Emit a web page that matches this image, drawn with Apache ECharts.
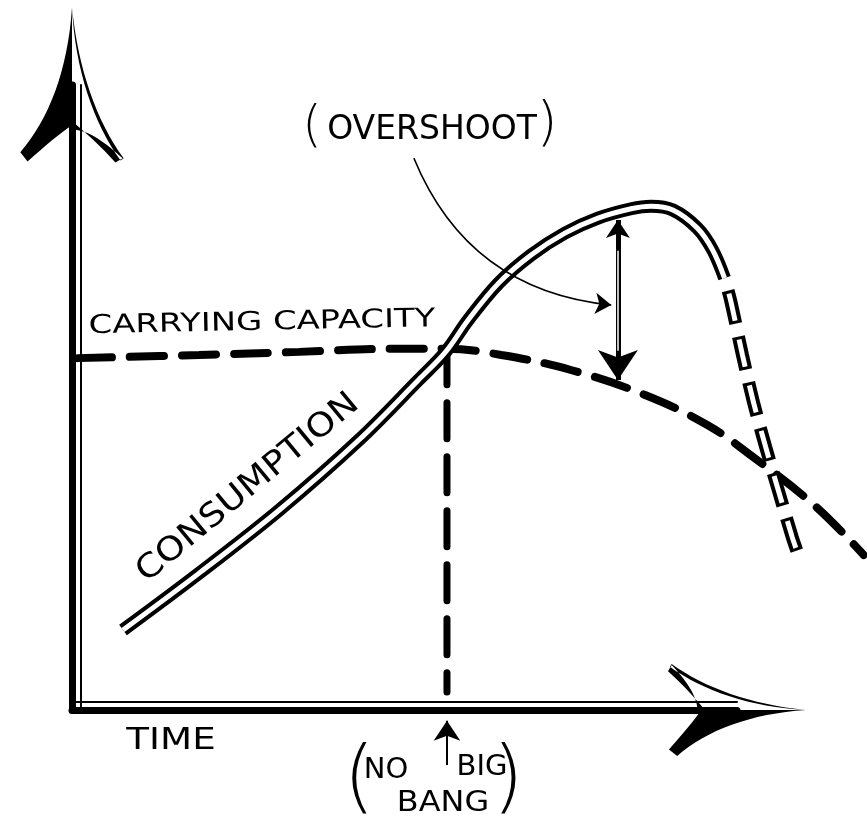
<!DOCTYPE html>
<html><head><meta charset="utf-8">
<script src="https://cdn.jsdelivr.net/npm/echarts@6/dist/echarts.min.js"></script>
<style>html,body{margin:0;padding:0;background:#fff}#c{width:867px;height:823px}</style>
</head><body><div id="c"></div>
<script>
// ---- data (time on x, level on y; arbitrary units) ----
const consumption = [[7.7,12.8],[19.2,21.9],[31.3,32.0],[43.3,43.2],[52.3,52.8],[56.4,57.3],[59.8,62.4],[64.4,68.3],[69.3,72.8],[74.4,76.3],[79.4,78.7],[84.4,80.2],[87.4,80.6],[90.7,80.0],[94.4,77.1],[96.7,73.6],[98.5,69.1]];
const consumptionCollapse = [[98.5,69.1],[99.4,65.6],[101.2,56.8],[102.9,49.1],[104.7,42.1],[106.6,35.2],[108.7,27.7],[109.5,25.2]];
const carryingCapacity = [[0.9,56.3],[19.2,56.8],[34.3,57.3],[49.3,57.8],[56.4,57.8],[64.8,56.8],[75.3,54.4],[86.5,50.4],[95.9,45.6],[102.4,40.8],[112.0,32.8],[119.5,24.8]];
const noBigBangDrop = [[56.6,57.8],[56.6,2.9]];
const noBigBangPointer = [[56.6,-8.8],[56.6,-1.7]];
const overshootPointer = [[51.6,88.3],[81.4,64.8]];
const overshootGap = [[82.4,78.4],[82.4,52.8]];
const overshootGapInner = [[82.4,73.5],[82.4,57.5]];
const labels = { x: 'TIME', consumption: 'CONSUMPTION', capacity: 'CARRYING CAPACITY', overshoot: 'OVERSHOOT', bang1: 'NO', bang2: 'BIG', bang3: 'BANG' };

const ARROW_UP = 'path://M50,0 C46,60 28,108 0,140 L7,149 C24,134 38,122 50,114 Z ' +
  'M50,0 C56,60 74,110 100,146 L97,148 C71,112 53,60 50,0 Z ' +
  'M50,110 C62,120 78,134 92,150 L99,146 C84,132 66,118 50,118 Z';
const ARROW_RIGHT = 'path://M50,0 C54,60 72,108 100,140 L93,149 C76,134 62,122 50,114 Z ' +
  'M50,0 C44,60 26,110 0,146 L3,148 C29,112 47,60 50,0 Z ' +
  'M50,110 C38,120 22,134 8,150 L1,146 C16,132 34,118 50,118 Z';
const FONT = '"DejaVu Sans", sans-serif';
function txt(x, y, text, size, rot, sx, weight) {
  return { type: 'text', x: x, y: y, rotation: rot || 0, scaleX: sx || 1, z: 100,
    style: { text: text, fontSize: size, fontFamily: FONT, fontWeight: weight || 'normal', fill: '#000',
      align: 'center', verticalAlign: 'middle', textAlign: 'center', textVerticalAlign: 'middle' } };
}
const hidden = { show: false };
const D = { xAxisIndex: 2, yAxisIndex: 2 };

const chart = echarts.init(document.getElementById('c'));
chart.setOption({
  animation: false,
  backgroundColor: '#fff',
  grid: [
    { left: 72, right: 130, top: 85, bottom: 113 },
    { left: 72, right: -3, top: 85, bottom: 113 }
  ],
  xAxis: [
    { type: 'value', gridIndex: 0, min: 0, max: 100, position: 'bottom',
      axisLine: { onZero: false, show: true, symbol: ['none', ARROW_RIGHT], symbolSize: [92, 150], lineStyle: { color: '#000', width: 7 } },
      axisTick: hidden, axisLabel: hidden, splitLine: hidden },
    { type: 'value', gridIndex: 0, min: 0, max: 100, position: 'bottom', offset: -8,
      axisLine: { onZero: false, show: true, lineStyle: { color: '#000', width: 2 } },
      axisTick: hidden, axisLabel: hidden, splitLine: hidden },
    { type: 'value', gridIndex: 1, min: 0, max: 120, show: false }
  ],
  yAxis: [
    { type: 'value', gridIndex: 0, min: 0, max: 100, position: 'left',
      axisLine: { onZero: false, show: true, symbol: ['none', ARROW_UP], symbolSize: [105, 155], lineStyle: { color: '#000', width: 7 } },
      axisTick: hidden, axisLabel: hidden, splitLine: hidden },
    { type: 'value', gridIndex: 0, min: 0, max: 100, position: 'left', offset: -9,
      axisLine: { onZero: false, show: true, lineStyle: { color: '#000', width: 2 } },
      axisTick: hidden, axisLabel: hidden, splitLine: hidden },
    { type: 'value', gridIndex: 1, min: 0, max: 100, show: false }
  ],
  series: [
    Object.assign({ type: 'line', name: 'carrying capacity', data: carryingCapacity, smooth: 0.4, symbol: 'none', clip: false, z: 2,
      lineStyle: { color: '#000', width: 8, type: [34, 18], cap: 'round' } }, D),
    Object.assign({ type: 'line', name: 'no big bang', data: noBigBangDrop, symbol: 'none', clip: false, z: 2,
      lineStyle: { color: '#000', width: 7, type: [36, 18], cap: 'round' } }, D),
    Object.assign({ type: 'line', name: 'consumption', data: consumption, smooth: 0.35, symbol: 'none', clip: false, z: 3,
      lineStyle: { color: '#000', width: 13, cap: 'butt' } }, D),
    Object.assign({ type: 'line', name: 'consumption inner', data: consumption, smooth: 0.35, symbol: 'none', clip: false, z: 4,
      lineStyle: { color: '#fff', width: 5, cap: 'butt' } }, D),
    Object.assign({ type: 'line', name: 'collapse', data: consumptionCollapse, smooth: 0.3, symbol: 'none', clip: false, z: 3,
      lineStyle: { color: '#000', width: 13, type: [34, 13], dashOffset: 34, cap: 'butt' } }, D),
    Object.assign({ type: 'line', name: 'collapse inner', data: consumptionCollapse, smooth: 0.3, symbol: 'none', clip: false, z: 4,
      lineStyle: { color: '#fff', width: 5, type: [28, 19], dashOffset: 31, cap: 'butt' } }, D),
    Object.assign({ type: 'lines', coordinateSystem: 'cartesian2d', clip: false, z: 5,
      symbol: ['none', 'arrow'], symbolSize: 16,
      lineStyle: { color: '#000', width: 1.5, curveness: -0.3, opacity: 1 },
      data: [{ coords: overshootPointer }] }, D),
    Object.assign({ type: 'lines', coordinateSystem: 'cartesian2d', clip: false, z: 5,
      symbol: ['arrow', 'arrow'], symbolSize: [18, 30],
      lineStyle: { color: '#000', width: 5, curveness: 0, opacity: 1 },
      data: [{ coords: overshootGap }] }, D),
    Object.assign({ type: 'lines', coordinateSystem: 'cartesian2d', clip: false, z: 6,
      symbol: ['none', 'none'],
      lineStyle: { color: '#fff', width: 1.5, curveness: 0, opacity: 1 },
      data: [{ coords: overshootGapInner }] }, D),
    Object.assign({ type: 'lines', coordinateSystem: 'cartesian2d', clip: false, z: 5,
      symbol: ['none', 'arrow'], symbolSize: [18, 20],
      lineStyle: { color: '#000', width: 2, curveness: 0, opacity: 1 },
      data: [{ coords: noBigBangPointer }] }, D)
  ],
  graphic: [
    txt(432, 130, labels.overshoot, 33),
    txt(312, 128, '(', 50, 0, 1, 200), txt(547, 126, ')', 54, 0, 1, 200),
    txt(262, 323, labels.capacity, 26, 0.02, 1.3),
    txt(248, 488, labels.consumption, 33, 0.69, 1.12),
    txt(171, 741, labels.x, 31, 0, 1.2),
    txt(359, 782, '(', 80, 0, 1, 200), txt(508, 782, ')', 80, 0, 1, 200),
    txt(386, 770, labels.bang1, 29),
    txt(482, 767, labels.bang2, 29),
    txt(443, 803, labels.bang3, 29, 0, 1.1)
  ]
});
</script></body></html>
